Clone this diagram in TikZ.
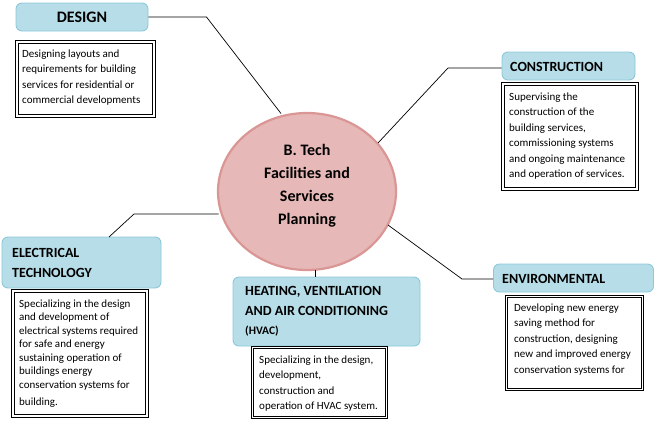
\documentclass[tikz,border=0pt]{standalone}
\usepackage{fontspec}
\setmainfont{Carlito}
\usetikzlibrary{shapes.geometric}
\definecolor{boxblue}{HTML}{B7DEE8}
\definecolor{boxedge}{HTML}{8CC8DA}
\definecolor{pinkfill}{HTML}{E6B8B7}
\definecolor{pinkedge}{HTML}{D99694}
\tikzset{
  head/.style={draw=boxedge, fill=boxblue, rounded corners=6pt, line width=0.9pt, inner sep=0pt},
  headtext/.style={font=\fontsize{14}{20}\selectfont\bfseries, align=left, inner sep=0pt, anchor=west},
  descbox/.style={draw=black, double, double distance=1.6pt, line width=0.8pt, inner sep=0pt},
  desctext/.style={font=\fontsize{11}{15.5}\selectfont, align=left, inner sep=0pt, anchor=north west},
  link/.style={draw=black, line width=0.7pt},
}
\begin{document}
\begin{tikzpicture}[x=1pt,y=-1pt]
\useasboundingbox (0,0) rectangle (655,421);

% central ellipse
\node[ellipse, draw=pinkedge, fill=pinkfill, line width=2.2pt, minimum width=178pt, minimum height=157pt, inner sep=0pt] (center) at (307,191.5) {};
\node[font=\fontsize{16}{23}\selectfont\bfseries, align=center, inner sep=0pt] (ctext) at (307,186) {B. Tech\\Facilities and\\Services\\Planning};

% DESIGN
\node[head, minimum width=132pt, minimum height=28pt] (design) at (82,17) {};
\node[font=\fontsize{16}{20}\selectfont\bfseries, inner sep=0pt] (designt) at (82,17.5) {DESIGN};
\node[descbox, minimum width=137pt, minimum height=74pt] (designbox) at (85.5,79) {};
\node[desctext] (designtx) at (22,49.5) {Designing layouts and\\requirements for building\\services for residential or\\commercial developments};

% CONSTRUCTION
\node[head, minimum width=133pt, minimum height=28pt] (constr) at (568.5,66) {};
\node[headtext] (constrt) at (510,66.5) {CONSTRUCTION};
\node[descbox, minimum width=134pt, minimum height=105pt] (constrbox) at (570,136.5) {};
\node[desctext] (constrtx) at (509,92.5) {Supervising the\\construction of the\\building services,\\commissioning systems\\and ongoing maintenance\\and operation of services.};

% ELECTRICAL TECHNOLOGY
\node[head, minimum width=159pt, minimum height=51pt] (elec) at (81.5,262.5) {};
\node[headtext] (elect) at (12,263) {ELECTRICAL\\TECHNOLOGY};
\node[descbox, minimum width=134pt, minimum height=125pt] (elecbox) at (80,353.5) {};
\node[desctext, font=\fontsize{11}{13.5}\selectfont] (electx) at (19,299.5) {Specializing in the design\\and development of\\electrical systems required\\for safe and energy\\sustaining operation of\\buildings energy\\conservation systems for\\[4pt]building.};

% HVAC
\node[head, minimum width=187pt, minimum height=69pt] (hvac) at (326.5,311.5) {};
\node[headtext, anchor=north west] (hvact) at (245,286) {HEATING, VENTILATION\\AND AIR CONDITIONING\\[-1pt]{\fontsize{11.5}{14}\selectfont (HVAC)}};
\node[descbox, minimum width=134pt, minimum height=70pt] (hvacbox) at (319.5,382.5) {};
\node[desctext] (hvactx) at (259,355.5) {Specializing in the design,\\development,\\construction and\\operation of HVAC system.};

% ENVIRONMENTAL
\node[head, minimum width=160pt, minimum height=28pt] (env) at (573.5,278) {};
\node[headtext] (envt) at (502,278.5) {ENVIRONMENTAL};
\node[descbox, minimum width=136pt, minimum height=93pt] (envbox) at (574.5,343) {};
\node[desctext] (envtx) at (514,303.5) {Developing new energy\\saving method for\\construction, designing\\new and improved energy\\conservation systems for};

% connectors
\coordinate (c1) at (206.5,17);
\coordinate (c1e) at (281,113.5);
\draw[link] (design.east) -- (c1) -- (c1e);
\coordinate (c2) at (448,68);
\coordinate (c2e) at (378,143);
\draw[link] (constr.west |- c2) -- (c2) -- (c2e);
\coordinate (c3) at (134,214);
\coordinate (c3s) at (218.5,214);
\draw[link] (c3s) -- (c3) -- (109,237) coordinate (c3e);
\coordinate (c4s) at (315.5,270);
\draw[link] (c4s) -- (c4s |- hvac.north);
\coordinate (c5) at (462,279);
\coordinate (c5e) at (388,225);
\draw[link] (env.west |- c5) -- (c5) -- (c5e);
\end{tikzpicture}
\end{document}
